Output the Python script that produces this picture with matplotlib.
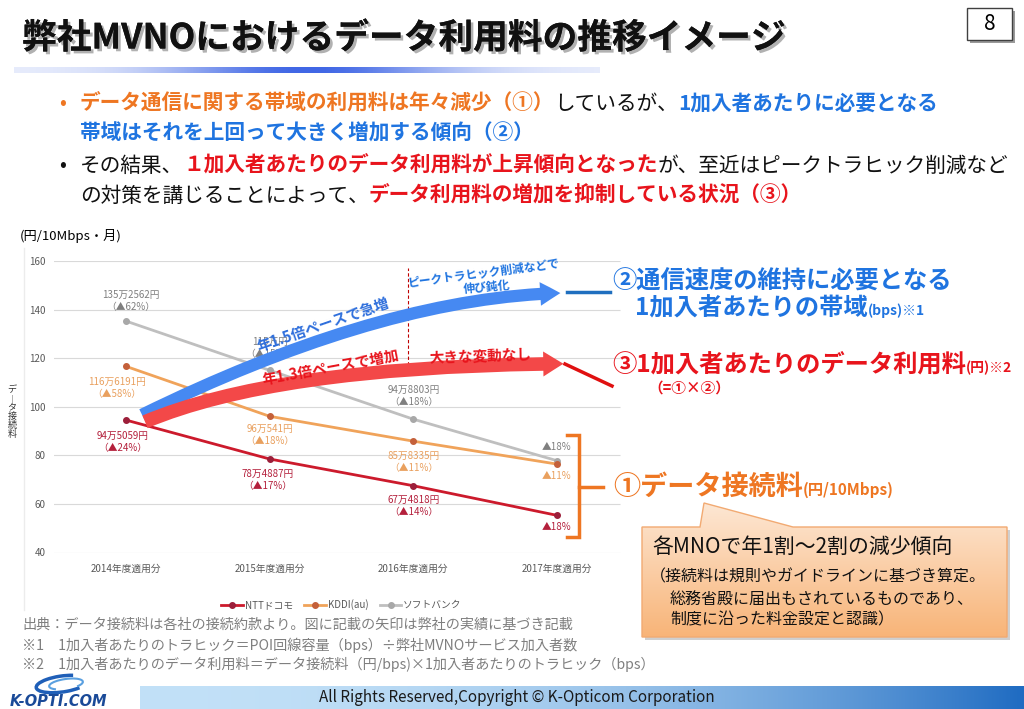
import numpy as np
import matplotlib
matplotlib.use('Agg')
import matplotlib.pyplot as plt
from matplotlib.patches import FancyArrowPatch, ArrowStyle, Rectangle, Polygon, Arc
from matplotlib.path import Path
import matplotlib.patheffects as pe

plt.rcParams['font.family'] = ['Noto Sans CJK JP', 'DejaVu Sans']

# ── データ ────────────────────────────────────────────────────────────────
years = ['2014年度適用分', '2015年度適用分', '2016年度適用分', '2017年度適用分']
ntt = [94.5059, 78.4887, 67.4818, 55.3]
kddi = [116.6191, 96.0541, 85.8335, 76.4]
sb = [135.2562, 115.0, 94.8803, 77.8]
ntt_labels = ['94万5059円\n（▲24%）', '78万4887円\n（▲17%）', '67万4818円\n（▲14%）', '▲18%']
kddi_labels = ['116万6191円\n（▲58%）', '96万541円\n（▲18%）', '85万8335円\n（▲11%）', '▲11%']
sb_labels = ['135万2562円\n（▲62%）', '115万円\n（▲15%）', '94万8803円\n（▲18%）', '▲18%']
series_names = ['NTTドコモ', 'KDDI(au)', 'ソフトバンク']
yticks = [40, 60, 80, 100, 120, 140, 160]

# ── 色 ────────────────────────────────────────────────────────────────────
ORANGE = '#ee7622'
BLUE = '#1f74e0'
RED = '#e8141c'
GRAY_T = '#595959'

fig = plt.figure(figsize=(10.24, 7.09), dpi=100)
fig.patch.set_facecolor('white')

# ── グラフ本体 ────────────────────────────────────────────────────────────
ax = fig.add_axes([54.25 / 1024, 1 - 552.5 / 709, 574.5 / 1024, 291.5 / 709])
ax.set_xlim(-0.5, 3.5)
ax.set_ylim(40, 160)
ax.patch.set_alpha(0)
for s in ax.spines.values():
    s.set_visible(False)
ax.hlines(yticks, -0.51, 3.44, color='#d9d9d9', lw=0.8, zorder=0)

x = np.arange(len(years))
l1, = ax.plot(x, ntt, color='#cc1a2c', lw=2, marker='o', ms=4, mfc='#9c1f3a', mec='#9c1f3a', zorder=3)
l2, = ax.plot(x, kddi, color='#f0a35a', lw=2, marker='o', ms=4, mfc='#c4603a', mec='#c4603a', zorder=3)
l3, = ax.plot(x, sb, color='#bfbfbf', lw=2, marker='o', ms=4, mfc='#a8a8a8', mec='#a8a8a8', zorder=2)

ax.set_yticks(yticks)
ax.set_yticklabels([str(v) for v in yticks])
ax.set_xticks(x)
ax.set_xticklabels(years)
ax.tick_params(axis='y', length=0, labelsize=7, labelcolor=GRAY_T, pad=6)
ax.tick_params(axis='x', length=0, labelsize=7, labelcolor=GRAY_T, pad=8)

# データラベル（オフセットは px）
sb_off = [(5, 20), (0, 22), (0, 23), (0, 14)]
kddi_off = [(-9, -22), (0, -19), (0, -21), (0, -12)]
ntt_off = [(-3, -22), (-2, -21), (0, -20), (0, -12)]
for vals, labs, offs, col in [(sb, sb_labels, sb_off, '#7f7f7f'),
                              (kddi, kddi_labels, kddi_off, '#e9a05e'),
                              (ntt, ntt_labels, ntt_off, '#b4203c')]:
    for i, (v, lab, o) in enumerate(zip(vals, labs, offs)):
        ax.annotate(lab, xy=(i, v), xytext=o, textcoords='offset pixels',
                    ha='center', va='center', fontsize=7, color=col,
                    linespacing=1.25, zorder=4)

# 凡例
leg = ax.legend([l1, l2, l3], series_names, loc='upper center',
                bbox_to_anchor=(0.5, -0.13), ncol=3, frameon=False,
                fontsize=7, handlelength=2.2, columnspacing=1.2,
                handletextpad=0.2, labelcolor=GRAY_T)

# ピーク削減の破線
ax.vlines(1.965, 117.2, 157.1, color='#c00000', lw=0.8, ls=(0, (3, 2)), zorder=3)

# 太い矢印（二次ベジェ）
BLUE_ARROW = [(0.111, 96.7), (1.770, 144.8), (3.024, 146.8)]
RED_ARROW = [(0.132, 93.8), (1.059, 116.8), (3.045, 117.7)]
for pts, col, tw, hw, hl in [(BLUE_ARROW, '#4689f2', 8.8, 17, 14.5),
                             (RED_ARROW, '#f34848', 9.8, 18, 14.5)]:
    p = Path(pts, [Path.MOVETO, Path.CURVE3, Path.CURVE3])
    arr = FancyArrowPatch(path=p, arrowstyle=ArrowStyle.Simple(head_length=hl, head_width=hw, tail_width=tw),
                          color=col, lw=0, zorder=5)
    ax.add_patch(arr)

# ── スライド全体の重ね描き（px 座標）────────────────────────────────────────
ov = fig.add_axes([0, 0, 1, 1])
ov.set_xlim(0, 1024)
ov.set_ylim(709, 0)
ov.axis('off')
ov.patch.set_alpha(0)
renderer = fig.canvas.get_renderer()


def run_text(x0, y0, parts):
    for s, col, size, wt in parts:
        t = ov.text(x0, y0, s, color=col, fontsize=size, fontweight=wt,
                    ha='left', va='baseline')
        x0 += t.get_window_extent(renderer).width


def hgrad(x0, x1, y0, y1, rgba):
    ov.imshow(rgba, extent=(x0, x1, y1, y0), aspect='auto', origin='upper',
              interpolation='bilinear', zorder=1)


# タイトル
ov.text(22, 38, '弊社MVNOにおけるデータ利用料の推移イメージ', fontsize=25,
        fontweight='bold', va='center', color='#111111',
        path_effects=[pe.withSimplePatchShadow(offset=(2, -2), shadow_rgbFace='#909090', alpha=0.7),
                      pe.Normal()])
t = np.linspace(0, 1, 400)
a = 0.12 + 0.88 * np.exp(-((t - 0.5) / 0.24) ** 2)
ul = np.zeros((1, 400, 4))
ul[0, :, 0] = 0.25
ul[0, :, 1] = 0.40
ul[0, :, 2] = 0.90
ul[0, :, 3] = a
hgrad(14, 600, 67, 73, ul)

# ページ番号
ov.add_patch(Rectangle((970, 11), 45, 32, facecolor='#9a9a9a', edgecolor='none', zorder=2))
ov.add_patch(Rectangle((967, 8), 45, 32, facecolor='white', edgecolor='#404040', lw=1, zorder=3))
ov.text(989.5, 24, '8', fontsize=15, ha='center', va='center', zorder=4)

# 箇条書き
FS = 14.9
ov.text(63, 103, '•', fontsize=FS, color=ORANGE, ha='center', va='center')
run_text(80, 110, [('データ通信に関する帯域の利用料は年々減少（①）', ORANGE, FS, 'bold'),
                   ('しているが、', '#111111', FS, 'normal'),
                   ('1加入者あたりに必要となる', BLUE, FS, 'bold')])
run_text(80, 140, [('帯域はそれを上回って大きく増加する傾向（②）', BLUE, FS, 'bold')])
ov.text(63, 165, '•', fontsize=FS, color='#111111', ha='center', va='center')
run_text(80, 172, [('その結果、', '#111111', FS, 'normal'),
                   ('１加入者あたりのデータ利用料が上昇傾向となった', RED, FS, 'bold'),
                   ('が、至近はピークトラヒック削減など', '#111111', FS, 'normal')])
run_text(80, 202, [('の対策を講じることによって、', '#111111', FS, 'normal'),
                   ('データ利用料の増加を抑制している状況（③）', RED, FS, 'bold')])

# グラフ周り
ov.text(20, 236, '(円/10Mbps・月)', fontsize=9.5, va='center')
ov.plot([24, 24], [248, 610], color='#ececec', lw=1)
ov.text(12, 412, 'デ\n︱\nタ\n接\n続\n料', fontsize=6.5, ha='center', va='center',
        linespacing=1.0, color='#333333')

# グラフ内の注記
ov.text(483, 273, 'ピークトラヒック削減などで', fontsize=8.5, fontweight='bold', color=BLUE,
        ha='center', va='center', rotation=7.5, rotation_mode='anchor')
ov.text(487, 287, '伸び鈍化', fontsize=8.5, fontweight='bold', color=BLUE,
        ha='center', va='center', rotation=5, rotation_mode='anchor')
ov.text(323, 325, '年1.5倍ペースで急増', fontsize=10.5, fontweight='bold', color='#2f6fdc',
        ha='center', va='center', rotation=19, rotation_mode='anchor')
ov.text(331, 367, '年1.3倍ペースで増加', fontsize=10.5, fontweight='bold', color=RED,
        ha='center', va='center', rotation=10.5, rotation_mode='anchor')
ov.text(480, 356, '大きな変動なし', fontsize=10.5, fontweight='bold', color=RED,
        ha='center', va='center', rotation=2, rotation_mode='anchor')

# 右側の説明
ov.plot([567, 610], [292, 292], color='#1f6fbf', lw=2.5)
run_text(612, 289, [('②通信速度の維持に必要となる', BLUE, 17.5, 'bold')])
run_text(635, 315, [('1加入者あたりの帯域', BLUE, 17.5, 'bold'),
                    ('(bps)※1', BLUE, 10, 'bold')])
ov.plot([565, 612], [364, 386], color='#e01010', lw=2.5)
run_text(612, 372, [('③1加入者あたりのデータ利用料', RED, 17.5, 'bold'),
                    ('(円)※2', RED, 10, 'bold')])
ov.text(648, 388, '（=①×②）', fontsize=10.5, fontweight='bold', color=RED, va='center')

ov.plot([567, 579, 579, 567], [435, 435, 537, 537], color=ORANGE, lw=2.5, solid_joinstyle='miter')
ov.plot([579, 603], [487, 487], color=ORANGE, lw=2.5)
run_text(613, 495, [('①データ接続料', ORANGE, 19.5, 'bold'),
                    ('(円/10Mbps)', ORANGE, 11, 'bold')])

# 吹き出し
CALLOUT = [(642, 527), (700, 527), (704, 503), (793, 527), (1007, 527), (1007, 637), (642, 637)]
ov.add_patch(Polygon([(px + 3, py + 3) for px, py in CALLOUT], closed=True,
                     facecolor='#b0b0b0', edgecolor='none', alpha=0.6, zorder=1))
top = np.array([0.992, 0.906, 0.830])
bot = np.array([0.973, 0.706, 0.470])
g = np.linspace(0, 1, 200)[:, None]
grad = np.ones((200, 1, 4))
grad[:, 0, :3] = top + (bot - top) * g
im = ov.imshow(grad, extent=(642, 1007, 637, 503), aspect='auto', origin='upper',
               interpolation='bilinear', zorder=2)
poly = Polygon(CALLOUT, closed=True, facecolor='none', edgecolor='#f2aa72', lw=1, zorder=3)
ov.add_patch(poly)
im.set_clip_path(poly)
ov.text(652, 547, '各MNOで年1割～2割の減少傾向', fontsize=15, va='center', color='#111111', zorder=4)
ov.text(650, 577, '（接続料は規則やガイドラインに基づき算定。', fontsize=11.5, va='center', color='#111111', zorder=4)
ov.text(670, 600, '総務省殿に届出もされているものであり、', fontsize=11.5, va='center', color='#111111', zorder=4)
ov.text(670, 620, '制度に沿った料金設定と認識）', fontsize=11.5, va='center', color='#111111', zorder=4)

# 出典
for yy, s in [(625, '出典：データ接続料は各社の接続約款より。図に記載の矢印は弊社の実績に基づき記載'),
              (645, '※1　1加入者あたりのトラヒック＝POI回線容量（bps）÷弊社MVNOサービス加入者数'),
              (664, '※2　1加入者あたりのデータ利用料＝データ接続料（円/bps)×1加入者あたりのトラヒック（bps）')]:
    ov.text(22, yy, s, fontsize=10.2, color='#7f7f7f', va='center')

# フッター
xs = np.linspace(0, 1, 500)
c0 = np.array([0.76, 0.88, 0.97])
c1 = np.array([0.12, 0.42, 0.76])
w = xs ** 2.2
foot = np.ones((1, 500, 4))
foot[0, :, :3] = c0 + (c1 - c0) * w[:, None]
hgrad(140, 1024, 686, 709, foot)
ov.text(517, 698, 'All Rights Reserved,Copyright © K-Opticom Corporation', fontsize=11,
        ha='center', va='center', color='#1a1a1a', zorder=3)

# ロゴ
ov.add_patch(Arc((62, 684), 52, 16, angle=-8, theta1=20, theta2=330, color='#1f5fb8', lw=2.5, zorder=3))
ov.add_patch(Arc((66, 684), 34, 10, angle=-8, theta1=160, theta2=380, color='#5aa0e0', lw=1.5, zorder=3))
ov.text(10, 702, 'K-OPTI.COM', fontsize=10.5, fontweight='bold', style='italic',
        family='DejaVu Sans', color='#1a4a98', va='center', zorder=3)

ov.set_xlim(0, 1024)
ov.set_ylim(709, 0)

fig.savefig('out.png', dpi=100, facecolor='white')
